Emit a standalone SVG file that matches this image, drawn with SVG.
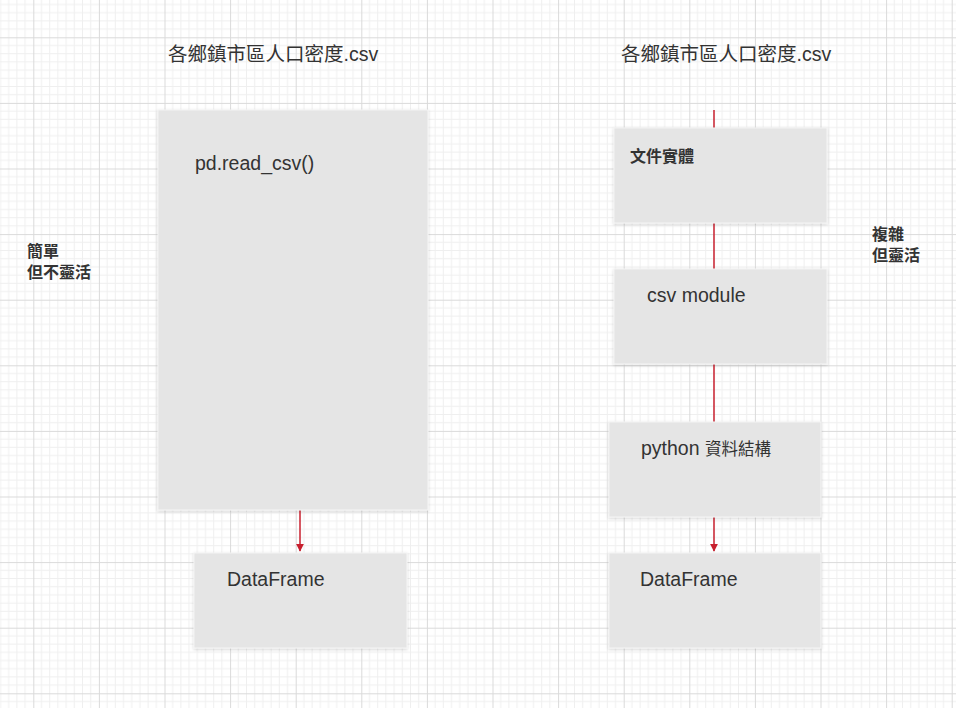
<svg xmlns="http://www.w3.org/2000/svg" width="956" height="708" viewBox="0 0 956 708">
<defs>
<pattern id="grid" patternUnits="userSpaceOnUse" x="33.3" y="37.3" width="65.6" height="65.6">
<g stroke="#efefef" stroke-width="1" fill="none">
<path d="M8.2 0V65.6M16.4 0V65.6M24.6 0V65.6M32.8 0V65.6M41 0V65.6M49.2 0V65.6M57.4 0V65.6"/>
<path d="M0 8.2H65.6M0 16.4H65.6M0 24.6H65.6M0 32.8H65.6M0 41H65.6M0 49.2H65.6M0 57.4H65.6"/>
</g>
<path d="M0.5 0V65.6M0 0.5H65.6" stroke="#dadada" stroke-width="1" fill="none"/>
</pattern>
<filter id="shadow" x="-10%" y="-10%" width="120%" height="120%">
<feDropShadow dx="0" dy="1" stdDeviation="1.5" flood-color="#000" flood-opacity="0.18"/>
</filter>
<marker id="arrow" viewBox="0 0 10 10" refX="9" refY="5" markerWidth="8" markerHeight="8" markerUnits="userSpaceOnUse" orient="auto">
<path d="M0 0L10 5L0 10z" fill="#c8202f"/>
</marker>
</defs>
<style>
.box{fill:#e5e5e5;stroke:#f4f4f4;stroke-width:1;filter:url(#shadow)}
.t{font-family:"Liberation Sans","Noto Sans CJK TC",sans-serif;fill:#333}
.title{font-size:19.5px}
.lbl{font-size:19.5px}
.cjk{font-size:16.5px}
.b{font-size:16px;font-weight:bold}
.edge{stroke:#c8202f;stroke-width:1.5;fill:none}
</style>
<rect width="956" height="708" fill="#ffffff"/>
<rect width="956" height="708" fill="url(#grid)"/>

<g id="connectors">
<line class="edge" x1="714" y1="110" x2="714" y2="551" marker-end="url(#arrow)"/>
<line class="edge" x1="300" y1="510" x2="300" y2="551" marker-end="url(#arrow)"/>
</g>

<g id="title-left"><text class="t title" x="168" y="61">各鄉鎮市區人口密度.csv</text></g>
<g id="title-right"><text class="t title" x="621" y="61">各鄉鎮市區人口密度.csv</text></g>

<g id="note-left"><text class="t b" x="27" y="257">簡單</text><text class="t b" x="27" y="278">但不靈活</text></g>
<g id="note-right"><text class="t b" x="872" y="240">複雜</text><text class="t b" x="872" y="261">但靈活</text></g>

<g id="node-read-csv"><rect class="box" x="158" y="110" width="270" height="400"/><text class="t lbl" x="195" y="170">pd.read_csv()</text></g>
<g id="node-df-left"><rect class="box" x="194" y="553" width="213" height="95"/><text class="t lbl" x="227" y="586">DataFrame</text></g>
<g id="node-file"><rect class="box" x="614" y="128" width="213" height="95"/><text class="t b" x="630" y="162">文件實體</text></g>
<g id="node-csv-module"><rect class="box" x="614" y="269" width="213" height="95"/><text class="t lbl" x="647" y="302">csv module</text></g>
<g id="node-python"><rect class="box" x="609" y="422" width="212" height="95"/><text class="t lbl" x="641" y="455">python <tspan class="cjk">資料結構</tspan></text></g>
<g id="node-df-right"><rect class="box" x="609" y="553" width="212" height="95"/><text class="t lbl" x="640" y="586">DataFrame</text></g>
</svg>
